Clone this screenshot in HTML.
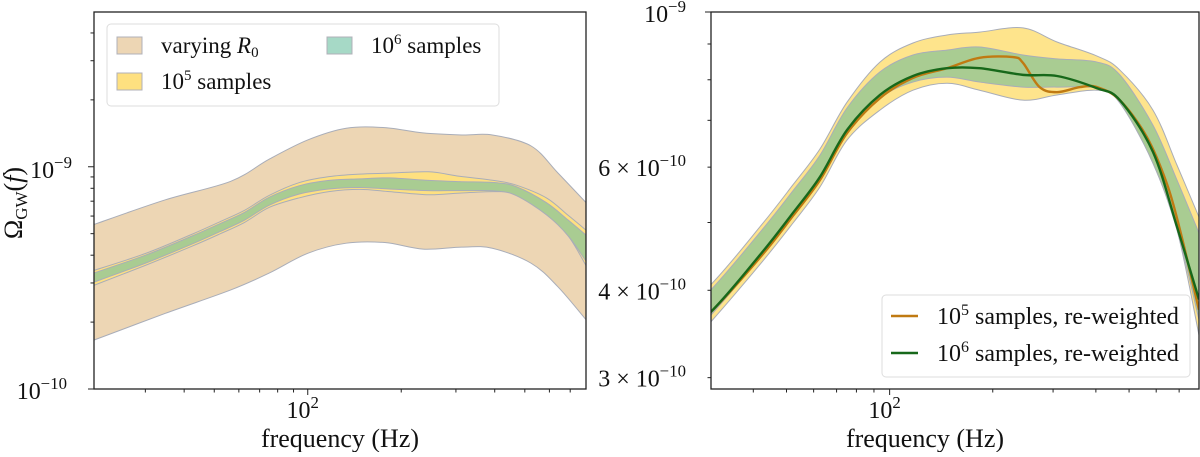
<!DOCTYPE html>
<html><head><meta charset="utf-8">
<style>
body{margin:0;background:#fff;width:1200px;height:452px;overflow:hidden;font-family:"Liberation Serif",serif;}
svg text{font-family:"Liberation Serif",serif;fill:#111;}
</style></head>
<body>
<svg id="chart" width="1200" height="452" viewBox="0 0 1200 452" xmlns="http://www.w3.org/2000/svg"></svg>
<script>
// ---- data ----
const freqBeige = [20.5,34.8,56.5,75,100,133,177,235,313,393,524,638,787];
const beigeUpper = [5.5,7.1,8.6,10.8,13.2,14.9,15.0,14.2,13.9,13.9,12.4,9.4,6.9];
const beigeLower = [1.66,2.19,2.79,3.32,4.08,4.53,4.56,4.26,4.35,4.3,3.68,2.89,2.05];
const freqBand = [20,30,42.4,52.2,62.6,75.1,93.7,117,147,183,245,308,403,470,587,690,800];
const yellowUpper = [3.38,4.07,4.97,5.66,6.37,7.43,8.48,9.03,9.27,9.36,9.49,9.06,8.65,8.26,7.24,6.04,5.09];
const yellowLower = [2.89,3.60,4.39,4.99,5.62,6.56,7.24,7.73,7.91,7.73,7.48,7.61,7.73,7.48,6.08,4.88,3.45];
const greenUpper = [3.29,4.00,4.88,5.55,6.24,7.29,8.21,8.68,8.82,8.91,8.68,8.57,8.48,8.13,6.89,5.75,4.83];
const greenLower = [2.99,3.68,4.49,5.11,5.75,6.71,7.53,7.94,8.07,7.94,7.81,7.81,7.78,7.41,6.08,4.88,3.63];
const greenLine = [3.12,3.72,4.53,5.16,5.81,6.78,7.61,8.10,8.31,8.31,8.13,8.10,7.78,7.48,6.31,4.93,3.88];
const freqOrange = [20,30,42.4,52.2,62.6,75.1,93.7,117,147,183,229,245,274,308,360,403,470,563,644,704,800];
const orangeLine = [3.12,3.72,4.49,5.11,5.75,6.71,7.53,8.05,8.31,8.60,8.62,8.46,7.81,7.68,7.81,7.81,7.48,6.63,5.69,4.88,3.75];
const valueScale = 1e-10;

const NS='http://www.w3.org/2000/svg';
const svg=document.getElementById('chart');
function mk(tag,attrs,parent){const e=document.createElementNS(NS,tag);for(const k in attrs)e.setAttribute(k,attrs[k]);(parent||svg).appendChild(e);return e;}

function makeAxes(x0,x1,y0,y1,fmin,fmax,vmin,vmax){
  const lf0=Math.log10(fmin),lf1=Math.log10(fmax),lv0=Math.log10(vmin),lv1=Math.log10(vmax);
  return {x:f=>x0+(Math.log10(f)-lf0)/(lf1-lf0)*(x1-x0), y:v=>y1-(Math.log10(v)-lv0)/(lv1-lv0)*(y1-y0)};
}
function spline(pts){
  let d='M'+pts[0][0].toFixed(2)+','+pts[0][1].toFixed(2);
  for(let i=0;i<pts.length-1;i++){
    const p0=pts[Math.max(i-1,0)],p1=pts[i],p2=pts[i+1],p3=pts[Math.min(i+2,pts.length-1)];
    const c1=[p1[0]+(p2[0]-p0[0])/6,p1[1]+(p2[1]-p0[1])/6];
    const c2=[p2[0]-(p3[0]-p1[0])/6,p2[1]-(p3[1]-p1[1])/6];
    d+=' C'+c1.map(v=>v.toFixed(2)).join(',')+' '+c2.map(v=>v.toFixed(2)).join(',')+' '+p2[0].toFixed(2)+','+p2[1].toFixed(2);
  }
  return d;
}
function pts(ax,fs,vs,s){return fs.map((f,i)=>[ax.x(f),ax.y(vs[i]*s)]);}
function band(g,ax,fs,up,lo,s,fill,name){
  const pu=pts(ax,fs,up,s), pl=pts(ax,fs,lo,s).reverse();
  const d=spline(pu)+' L'+pl[0][0]+','+pl[0][1]+spline(pl).replace(/^M[^C]*/,' ')+' Z';
  const p=mk('path',{d:d,fill:fill,stroke:'#a9adb8','stroke-width':1},g);
  
  
}
function line(g,ax,fs,vs,s,col,name){
  const p=mk('path',{d:spline(pts(ax,fs,vs,s)),fill:'none',stroke:col,'stroke-width':2.4},g);
  
  
}
function supText(g,x,y,base,sup,anchor,size,name){
  const t=mk('text',{x:x,y:y,'font-size':size,'text-anchor':anchor},g);
  
  
  t.appendChild(document.createTextNode(base));
  const s=mk('tspan',{dy:-10,'font-size':size*0.7},t);s.textContent=sup;
  return t;
}

// ---------- LEFT PANEL ----------
const L={x0:94,x1:586,y0:12,y1:389};
const axL=makeAxes(L.x0,L.x1,L.y0,L.y1,20.5,787,1e-10,4.97e-9);
const gL=mk('g',{});


mk('clipPath',{id:'clipL'},gL).appendChild(mk('rect',{x:L.x0,y:L.y0,width:L.x1-L.x0,height:L.y1-L.y0}));
const plotL=mk('g',{'clip-path':'url(#clipL)'},gL);
band(plotL,axL,freqBeige,beigeUpper,beigeLower,valueScale,'#edd6b4','band-varying-r0');
band(plotL,axL,freqBand,yellowUpper,yellowLower,valueScale,'#fee080','band-1e5-samples');
band(plotL,axL,freqBand,greenUpper,greenLower,valueScale,'#a9cc92','band-1e6-samples');
const frameL=mk('rect',{x:L.x0,y:L.y0,width:L.x1-L.x0,height:L.y1-L.y0,fill:'none',stroke:'#222','stroke-width':1.3},gL);

[30,40,50,60,70,80,90,200,300,400,500,600,700].forEach(f=>{const x=axL.x(f);mk('line',{x1:x,x2:x,y1:L.y1,y2:L.y1+3.5,stroke:'#222'},gL);});
mk('line',{x1:axL.x(100),x2:axL.x(100),y1:L.y1,y2:L.y1+6,stroke:'#222'},gL);
[2,3,4,5,6,7,8,9,20,30,40].forEach(m=>{const y=axL.y(m*1e-10);mk('line',{x1:L.x0-3.5,x2:L.x0,y1:y,y2:y,stroke:'#222'},gL);});
[1e-10,1e-9].forEach(v=>{const y=axL.y(v);mk('line',{x1:L.x0-6,x2:L.x0,y1:y,y2:y,stroke:'#222'},gL);});
supText(gL,axL.x(100)-5,418,'10','2','middle',24,'x-tick-100-left');
supText(gL,72,178,'10','−9','end',24,'y-tick-1e-9');
supText(gL,67,399,'10','−10','end',24,'y-tick-1e-10');
const xlL=mk('text',{x:340,y:447,'font-size':26,'text-anchor':'middle'},gL);xlL.textContent='frequency (Hz)';

const yl=mk('text',{x:0,y:0,'font-size':26,'text-anchor':'middle',transform:'translate(22,203) rotate(-90)'},gL);

yl.appendChild(document.createTextNode('Ω'));
const ys=mk('tspan',{dy:5,'font-size':17},yl);ys.textContent='GW';
const ys2=mk('tspan',{dy:-5},yl);ys2.textContent='(';
const ys3=mk('tspan',{'font-style':'italic'},yl);ys3.textContent='f';
const ys4=mk('tspan',{},yl);ys4.textContent=')';
// legend left
const lgL=mk('g',{},gL);
mk('rect',{x:107,y:24,width:392,height:82,rx:4,fill:'#fff','fill-opacity':0.85,stroke:'#ddd'},lgL);
function patch(x,y,fill,sup,name,italic){
  const g=mk('g',{},lgL);
  mk('rect',{x:x,y:y,width:25,height:17,fill:fill,stroke:'#b0b0b8'},g);
  const t=mk('text',{x:x+44,y:y+16,'font-size':23},g);
  if(italic){t.appendChild(document.createTextNode('varying '));const i=mk('tspan',{'font-style':'italic'},t);i.textContent='R';const s=mk('tspan',{dy:4,'font-size':15},t);s.textContent='0';}
  else{t.appendChild(document.createTextNode('10'));const s=mk('tspan',{dy:-9,'font-size':15},t);s.textContent=sup;const r=mk('tspan',{dy:9},t);r.textContent=' samples';}
}
patch(117,37,'#edd6b4','','legend-entry-varying-r0',true);
patch(117,73,'#fee080','5','legend-entry-1e5',false);
patch(327,37,'#a6d9c6','6','legend-entry-1e6',false);

// ---------- RIGHT PANEL ----------
const R={x0:711,x1:1199,y0:12,y1:389};
const axR=makeAxes(R.x0,R.x1,R.y0,R.y1,30.1,800,2.89e-10,1e-9);
const gR=mk('g',{});


mk('clipPath',{id:'clipR'},gR).appendChild(mk('rect',{x:R.x0,y:R.y0,width:R.x1-R.x0,height:R.y1-R.y0}));
const plotR=mk('g',{'clip-path':'url(#clipR)'},gR);
band(plotR,axR,freqBand,yellowUpper,yellowLower,valueScale,'#fee48c','band-1e5-samples-right');
band(plotR,axR,freqBand,greenUpper,greenLower,valueScale,'#a9cc92','band-1e6-samples-right');
line(plotR,axR,freqOrange,orangeLine,valueScale,'#c07a12','line-1e5-reweighted');
line(plotR,axR,freqBand,greenLine,valueScale,'#17681a','line-1e6-reweighted');
const frameR=mk('rect',{x:R.x0,y:R.y0,width:R.x1-R.x0,height:R.y1-R.y0,fill:'none',stroke:'#222','stroke-width':1.3},gR);

[40,50,60,70,80,90,200,300,400,500,600,700].forEach(f=>{const x=axR.x(f);mk('line',{x1:x,x2:x,y1:R.y1,y2:R.y1+3.5,stroke:'#222'},gR);});
mk('line',{x1:axR.x(100),x2:axR.x(100),y1:R.y1,y2:R.y1+6,stroke:'#222'},gR);
[3,4,5,6,7,8,9].forEach(m=>{const y=axR.y(m*1e-10);mk('line',{x1:R.x0-3.5,x2:R.x0,y1:y,y2:y,stroke:'#222'},gR);});
mk('line',{x1:R.x0-6,x2:R.x0,y1:axR.y(1e-9),y2:axR.y(1e-9),stroke:'#222'},gR);
supText(gR,axR.x(100)-5,418,'10','2','middle',24,'x-tick-100-right');
supText(gR,686,22,'10','−9','end',24,'y-tick-1e-9-right');
[[6,'6'],[4,'4'],[3,'3']].forEach(([m,l])=>{supText(gR,686,axR.y(m*1e-10)+9,l+' × 10','−10','end',24,'y-tick-'+l+'e-10');});
const xlR=mk('text',{x:925,y:447,'font-size':26,'text-anchor':'middle'},gR);xlR.textContent='frequency (Hz)';

const lgR=mk('g',{},gR);
mk('rect',{x:882,y:295,width:308,height:82,rx:4,fill:'#fff','fill-opacity':0.85,stroke:'#ddd'},lgR);
[[316,'#c07a12','5','legend-entry-1e5-reweighted'],[353,'#17681a','6','legend-entry-1e6-reweighted']].forEach(([y,c,s,n])=>{
  const g=mk('g',{},lgR);
  mk('line',{x1:891,x2:918,y1:y,y2:y,stroke:c,'stroke-width':2.4},g);
  const t=mk('text',{x:937,y:y+8,'font-size':24},g);
  t.appendChild(document.createTextNode('10'));
  const sp=mk('tspan',{dy:-9,'font-size':16},t);sp.textContent=s;
  const r=mk('tspan',{dy:9},t);r.textContent=' samples, re-weighted';
});
</script>
</body></html>
